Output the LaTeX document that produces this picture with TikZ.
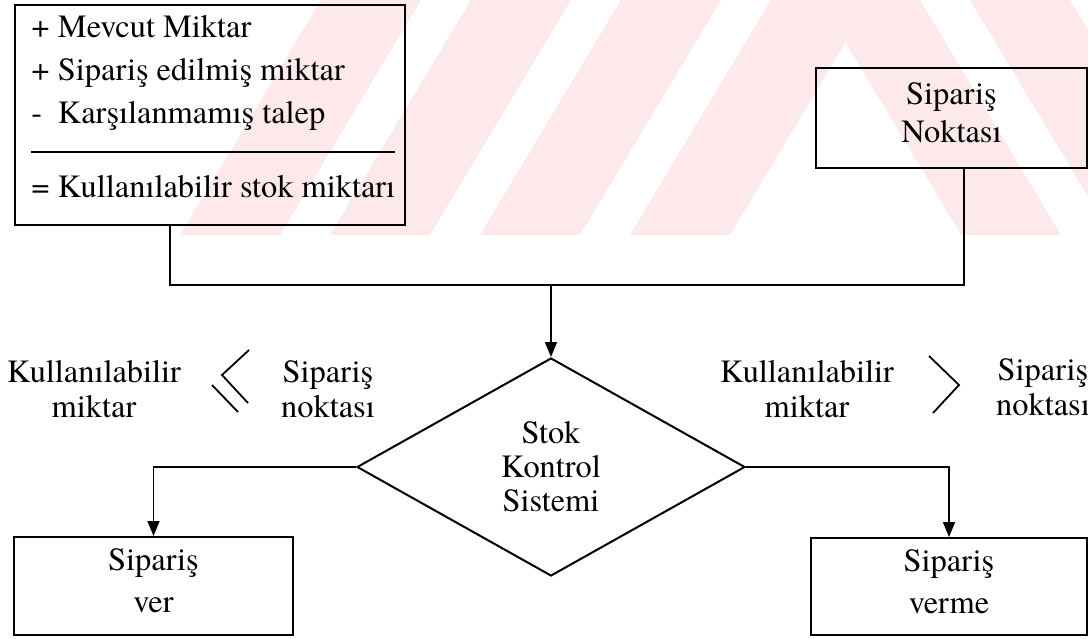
\documentclass[tikz,border=0pt]{standalone}
\usepackage{fontspec}
\IfFontExistsTF{texgyretermes-regular.otf}
  {\setmainfont{texgyretermes-regular.otf}}
  {\setmainfont{Liberation Serif}}
\usetikzlibrary{arrows.meta,shapes.geometric}
\definecolor{wmpink}{RGB}{253,232,236}
\begin{document}
\begin{tikzpicture}[x=0.5pt,y=-0.5pt,
  txt/.style={font=\fontsize{16.2}{19}\selectfont, inner sep=0pt},
  lbl/.style={font=\fontsize{16.2}{17.5}\selectfont, inner sep=0pt, align=center},
  boxn/.style={draw, line width=1pt, inner sep=0pt, align=center},
  conn/.style={line width=0.8pt},
  arr/.style={conn, -{Triangle[length=7.5pt,width=6pt]}},
  sym/.style={line width=0.9pt}]
\useasboundingbox (0,0) rectangle (1088,638);

% faint striped background band
\begin{scope}
  \clip (0,0) rectangle (1088,235);
  \foreach \xb in {180,330,480,630}
    \fill[wmpink] (\xb,235) -- ++(100,0) -- ++(141,-235) -- ++(-100,0) -- cycle;
  \foreach \xt in {820,970}
    \fill[wmpink] (\xt,0) -- ++(100,0) -- ++(141,235) -- ++(-100,0) -- cycle;
\end{scope}

% stock calculation box
\node[boxn, minimum width=195pt, minimum height=110pt] (inv) at (210,115) {};
\node[txt, anchor=base west] (l1) at (31,37) {\makebox[0.82em][l]{+}Mevcut Miktar};
\node[txt, anchor=base west] (l2) at (31,80) {\makebox[0.82em][l]{+}Sipariş edilmiş miktar};
\node[txt, anchor=base west] (l3) at (31,123) {\makebox[0.82em][l]{-}Karşılanmamış talep};
\draw[line width=0.9pt] (31,152) -- (395,152);
\node[txt, anchor=base west] (l4) at (31,197) {\makebox[0.82em][l]{=}Kullanılabilir stok miktarı};

% reorder point box
\node[boxn, minimum width=135.5pt, minimum height=50pt, text depth=5pt,
      font=\fontsize{16.2}{19}\selectfont] (sn) at (951.5,118) {Sipariş\\Noktası};

% decision
\node[diamond, draw, line width=1pt, minimum width=194pt, minimum height=109pt,
      inner sep=0pt, align=center, font=\fontsize{16.2}{17}\selectfont]
      (skc) at (551,467) {Stok\\Kontrol\\Sistemi};

% outcomes
\node[boxn, minimum width=139.5pt, minimum height=49pt, text depth=5pt,
      font=\fontsize{16.2}{21}\selectfont] (ver) at (153.5,586) {Sipariş\\ver};
\node[boxn, minimum width=138pt, minimum height=48.5pt, text depth=5pt,
      font=\fontsize{16.2}{21}\selectfont] (verme) at (949,586.5) {Sipariş\\verme};

% connectors
\coordinate (jl) at (170,285);
\coordinate (jr) at (964,285);
\coordinate (jc) at (551,285);
\draw[conn] (inv.south -| jl) -- (jl) -- (jr) -- (sn.south -| jr);
\draw[arr] (jc) -- (skc.north);
\draw[arr] (skc.west) -| (ver.north);
\draw[arr] (skc.east) -| (verme.north);

% condition labels
\node[lbl] (kl) at (94,389) {Kullanılabilir\\miktar};
\node[lbl] (sl) at (328,389) {Sipariş\\noktası};
\node[lbl] (kr) at (807,389) {Kullanılabilir\\miktar};
\node[lbl] (sr) at (1043,387) {Sipariş\\noktası};

% comparison signs
\draw[sym] (249,350) -- (222,375) -- (248,403);
\draw[sym] (212,385) -- (238,412);
\draw[sym] (929,356) -- (959,385) -- (933,413);
\end{tikzpicture}
\end{document}
